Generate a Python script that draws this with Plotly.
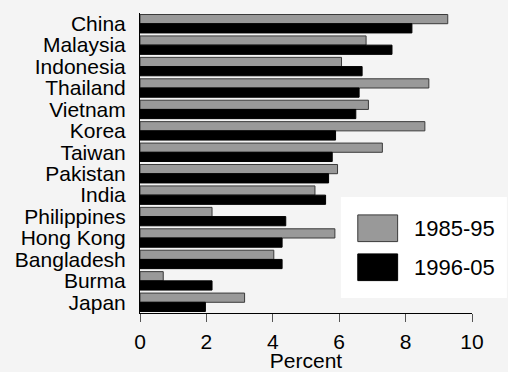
import plotly.graph_objects as go

countries = ["China", "Malaysia", "Indonesia", "Thailand", "Vietnam", "Korea", "Taiwan",
             "Pakistan", "India", "Philippines", "Hong Kong", "Bangladesh", "Burma", "Japan"]
period1_label = "1985-95"
period2_label = "1996-05"
period1 = [9.27, 6.81, 6.07, 8.70, 6.88, 8.58, 7.30, 5.95, 5.27, 2.17, 5.87, 4.03, 0.70, 3.15]
period2 = [8.19, 7.59, 6.69, 6.60, 6.50, 5.89, 5.79, 5.68, 5.59, 4.39, 4.28, 4.28, 2.17, 1.97]
x_ticks = [0, 2, 4, 6, 8, 10]

FONT = "Liberation Sans, Arial, sans-serif"
BG = "#f4f4f4"
GRAY = "#999999"

fig = go.Figure()
fig.add_trace(go.Bar(y=countries, x=period1, orientation="h", name=period1_label,
                     marker=dict(color=GRAY, line=dict(color="#3a3a3a", width=1))))
fig.add_trace(go.Bar(y=countries, x=period2, orientation="h", name=period2_label,
                     marker=dict(color="black", line=dict(color="black", width=1))))

# custom legend (large swatches)
fig.add_shape(type="rect", xref="paper", yref="paper", x0=0.605, x1=1.105, y0=0.05, y1=0.387,
              fillcolor="white", line=dict(width=0), layer="above")
fig.add_shape(type="rect", xref="paper", yref="paper", x0=0.656, x1=0.776, y0=0.238, y1=0.327,
              fillcolor=GRAY, line=dict(color="#3a3a3a", width=1), layer="above")
fig.add_shape(type="rect", xref="paper", yref="paper", x0=0.656, x1=0.776, y0=0.108, y1=0.197,
              fillcolor="black", line=dict(color="black", width=1), layer="above")
fig.add_annotation(xref="paper", yref="paper", x=0.818, y=0.283, text=period1_label,
                   showarrow=False, xanchor="left", yanchor="middle",
                   font=dict(size=22, color="black", family=FONT))
fig.add_annotation(xref="paper", yref="paper", x=0.818, y=0.153, text=period2_label,
                   showarrow=False, xanchor="left", yanchor="middle",
                   font=dict(size=22, color="black", family=FONT))

fig.update_layout(
    width=508, height=372,
    margin=dict(l=140, r=36, t=13, b=59),
    paper_bgcolor=BG, plot_bgcolor=BG,
    barmode="group", bargap=0.14, bargroupgap=0,
    showlegend=False,
    font=dict(family=FONT, size=21, color="black"),
    xaxis=dict(range=[0, 10], tickvals=x_ticks, showgrid=False, zeroline=False,
               showline=True, linecolor="black", linewidth=1, automargin=False,
               ticks="outside", ticklen=8, tickcolor="#555555", tickwidth=1,
               ticklabelstandoff=2,
               title=dict(text="Percent", standoff=3, font=dict(size=21)),
               tickfont=dict(size=21)),
    yaxis=dict(autorange="reversed", showgrid=False, zeroline=False,
               tickmode="array", tickvals=countries, automargin=False,
               showline=True, linecolor="black", linewidth=1,
               ticks="", ticklabelstandoff=9, tickfont=dict(size=21)),
)

fig.write_html("out.html", config={"displayModeBar": False},
               post_script="document.body.style.margin='0';document.body.style.background='#f4f4f4';")
